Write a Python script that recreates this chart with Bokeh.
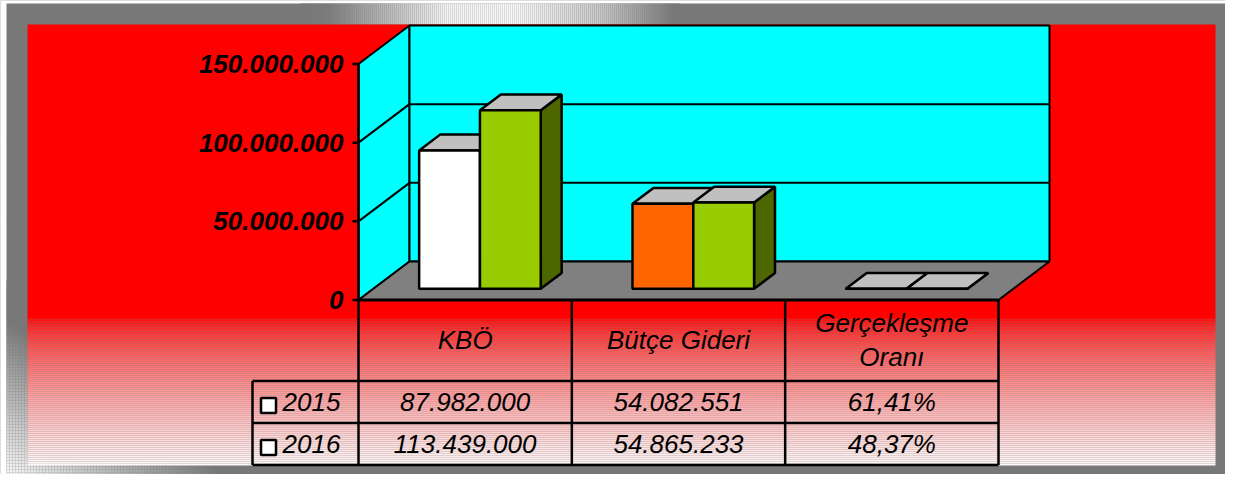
import numpy as np
from bokeh.plotting import figure
from bokeh.models import Range1d
from bokeh.core.properties import value
from bokeh.embed import file_html
from bokeh.resources import INLINE

# ---------------- data ----------------
categories = ["KBÖ", "Bütçe Gideri", "Gerçekleşme Oranı"]
header_lines = [["KBÖ"], ["Bütçe Gideri"], ["Gerçekleşme", "Oranı"]]
years = ["2015", "2016"]
values_2015 = [87982000, 54082551, 61.41]
values_2016 = [113439000, 54865233, 48.37]
is_percent = [False, False, True]
y_ticks = [0, 50000000, 100000000, 150000000]

colors_2015 = ["#FFFFFF", "#FF6600", "#FFFFFF"]
colors_2016 = ["#99CC00", "#99CC00", "#99CC00"]
sides_2015 = ["#BFBFBF", "#B34700", "#BFBFBF"]
sides_2016 = ["#4C6600", "#4C6600", "#4C6600"]
top_color = "#C0C0C0"


def fmt_value(v, pct):
    if pct:
        return f"{v:.2f}".replace(".", ",") + "%"
    return f"{int(round(v)):,}".replace(",", ".")


def fmt_tick(v):
    return f"{int(v):,}".replace(",", ".")


# ---------------- layout (page pixels) ----------------
LEFT, TOP, W, H = 0, 0, 1225, 474
CAT_LEFT = 358.0
CAT_W = 213.33
Y0 = 299.5
K = 236.0 / 150e6            # px per value unit
DEPTH_DX = 51.0
DEPTH_DY = 38.5
BAR_W_PX = 60.8
F0, F1 = 0.29, 0.70

x_range = Range1d((LEFT - CAT_LEFT) / CAT_W - 0.5, (LEFT + W - CAT_LEFT) / CAT_W - 0.5)
y_range = Range1d((Y0 - (TOP + H)) / K, (Y0 - TOP) / K)

p = figure(width=W, height=H, x_range=x_range, y_range=y_range,
           x_axis_location=None, y_axis_location=None,
           toolbar_location=None, output_backend="svg", min_border=0)
p.extra_x_ranges = {"px": Range1d(LEFT, LEFT + W)}
p.extra_y_ranges = {"px": Range1d(TOP + H, TOP)}
p.outline_line_color = None
p.background_fill_color = "#787878"
p.border_fill_color = "#787878"

PX = dict(x_range_name="px", y_range_name="px")
FONT = value("Liberation Sans")

# ---------------- frame ----------------
p.quad(left=[LEFT - 5], right=[LEFT + W + 5], top=[TOP - 5], bottom=[TOP + H + 5],
       fill_color="white", line_color=None, **PX)
p.quad(left=[6], right=[1237], top=[3], bottom=[487],
       fill_color="#787878", line_color=None, **PX)

# top highlight streak
def streak(x):
    pts = [(300, 120), (330, 125), (445, 245), (515, 250), (600, 200), (673, 120)]
    xs_, gs_ = zip(*pts)
    return int(np.interp(x, xs_, gs_))

sl, sr, scol = [], [], []
for X in range(300, 680, 2):
    g = streak(X + 1)
    sl.append(X); sr.append(X + 2); scol.append("#%02x%02x%02x" % (g, g, g))
p.quad(left=sl, right=sr, top=[3] * len(sl), bottom=[24] * len(sl),
       fill_color=scol, line_color=None, **PX)

# bottom-left diagonal highlight
cl, cr, ct, cb, cc = [], [], [], [], []
step = 3
for X in range(6, 280, step):
    for Y in range(280, 487, step):
        inside_red = (X >= 27) and (Y + step <= 465)
        if inside_red:
            continue
        d = (X + step / 2 - 6) + (487 - (Y + step / 2)) * 1.4
        t = np.clip((d - 25) / 210.0, 0, 1)
        g = int(248 - t * 128)
        cl.append(X); cr.append(X + step); ct.append(Y); cb.append(min(Y + step, 487))
        cc.append("#%02x%02x%02x" % (g, g, g))
p.quad(left=cl, right=cr, top=ct, bottom=cb, fill_color=cc, line_color=None, **PX)

# red panel with gradient
p.quad(left=[27], right=[1215], top=[24], bottom=[318], fill_color="#FF0000",
       line_color=None, **PX)
rt, rb, rc = [], [], []
for Y in range(317, 465, 2):
    t = (Y + 1 - 317) / 148.0
    g = int(round(248 * t ** 0.7))
    rt.append(Y); rb.append(Y + 2); rc.append("#ff%02x%02x" % (g, g))
p.quad(left=[27] * len(rt), right=[1215] * len(rt), top=rt, bottom=rb,
       fill_color=rc, line_color=None, **PX)

# ---------------- 3D walls & floor (data units) ----------------
DX = DEPTH_DX / CAT_W
DY = DEPTH_DY / K
xa, xb = -0.5, len(categories) - 0.5
ymax = y_ticks[-1]

p.patch([xa, xa, xa + DX, xa + DX], [0, ymax, ymax + DY, DY],
        fill_color="#00FFFF", line_color="black", line_width=2)
p.patch([xa + DX, xb + DX, xb + DX, xa + DX], [DY, DY, ymax + DY, ymax + DY],
        fill_color="#00FFFF", line_color="black", line_width=2)
p.patch([xa, xb, xb + DX, xa + DX], [0, 0, DY, DY],
        fill_color="#808080", line_color="black", line_width=2)

grid = [t for t in y_ticks if 0 < t < ymax]
p.segment(x0=[xa + DX] * len(grid), y0=[g + DY for g in grid],
          x1=[xb + DX] * len(grid), y1=[g + DY for g in grid],
          line_color="black", line_width=2)
p.segment(x0=[xa] * len(grid), y0=grid, x1=[xa + DX] * len(grid),
          y1=[g + DY for g in grid], line_color="black", line_width=2)

# ---------------- bars ----------------
BW = BAR_W_PX / CAT_W
sx0, sy0 = F0 * DX, F0 * DY
ddx, ddy = (F1 - F0) * DX, (F1 - F0) * DY
xs, ys, fc = [], [], []
series = [(values_2015, colors_2015, sides_2015), (values_2016, colors_2016, sides_2016)]
for i in range(len(categories)):
    for s, (vals, fcols, scols) in enumerate(series):
        x0 = i - BW + s * BW + sx0
        x1 = x0 + BW
        b = sy0
        t = vals[i] + sy0
        xs.append([x1, x1 + ddx, x1 + ddx, x1]); ys.append([b, b + ddy, t + ddy, t]); fc.append(scols[i])
        xs.append([x0, x1, x1 + ddx, x0 + ddx]); ys.append([t, t, t + ddy, t + ddy]); fc.append(top_color)
        xs.append([x0, x1, x1, x0]); ys.append([b, b, t, t]); fc.append(fcols[i])
p.patches(xs, ys, fill_color=fc, line_color="black", line_width=2.5)

# front axis & floor front edge
p.segment(x0=[xa], y0=[0], x1=[xa], y1=[ymax], line_color="black", line_width=2.5)
p.segment(x0=[xa], y0=[0], x1=[xb], y1=[0], line_color="black", line_width=3)

# ticks and tick labels
p.segment(x0=[352] * len(y_ticks), y0=y_ticks, x1=[CAT_LEFT] * len(y_ticks), y1=y_ticks,
          line_color="black", line_width=2.5, x_range_name="px")
p.text(x=[343] * len(y_ticks), y=y_ticks, text=[fmt_tick(v) for v in y_ticks],
       x_range_name="px", text_font=FONT, text_font_style="bold italic",
       text_font_size="26px", text_align="right", text_baseline="middle",
       text_color="black")

# ---------------- data table ----------------
col_x = [CAT_LEFT + k * CAT_W for k in range(len(categories) + 1)]
TBL_L = 252
row_y = [380.5, 422.5, 464.5]
lw = 2.5
p.segment(x0=[TBL_L] * 3, y0=row_y, x1=[col_x[-1]] * 3, y1=row_y,
          line_color="black", line_width=lw, **PX)
p.segment(x0=col_x, y0=[Y0] * len(col_x), x1=col_x, y1=[row_y[-1]] * len(col_x),
          line_color="black", line_width=lw, **PX)
p.segment(x0=[TBL_L], y0=[row_y[0]], x1=[TBL_L], y1=[row_y[-1]],
          line_color="black", line_width=lw, **PX)

hx, hy, ht = [], [], []
for i, lines in enumerate(header_lines):
    cx = (col_x[i] + col_x[i + 1]) / 2
    if len(lines) == 1:
        hx.append(cx); hy.append(339); ht.append(lines[0])
    else:
        hx += [cx, cx]; hy += [322, 356]; ht += lines
p.text(x=hx, y=hy, text=ht, text_font=FONT, text_font_style="italic",
       text_font_size="26px", text_align="center", text_baseline="middle",
       text_color="black", **PX)

row_centers = [401.5, 443.5]
tx, ty, tt = [], [], []
for r, vals in enumerate([values_2015, values_2016]):
    for i, v in enumerate(vals):
        tx.append((col_x[i] + col_x[i + 1]) / 2); ty.append(row_centers[r])
        tt.append(fmt_value(v, is_percent[i]))
p.text(x=tx, y=ty, text=tt, text_font=FONT, text_font_style="italic",
       text_font_size="26px", text_align="center", text_baseline="middle",
       text_color="black", **PX)

# legend keys in table
p.rect(x=[268, 268], y=[row_centers[0] + 3.5, row_centers[1] + 3.5], width=15, height=15,
       fill_color="white", line_color="black", line_width=2.5, **PX)
p.text(x=[282, 282], y=row_centers, text=years, text_font=FONT, text_font_style="italic",
       text_font_size="26px", text_align="left", text_baseline="middle",
       text_color="black", **PX)

open("out.html", "w").write(file_html(p, INLINE))
